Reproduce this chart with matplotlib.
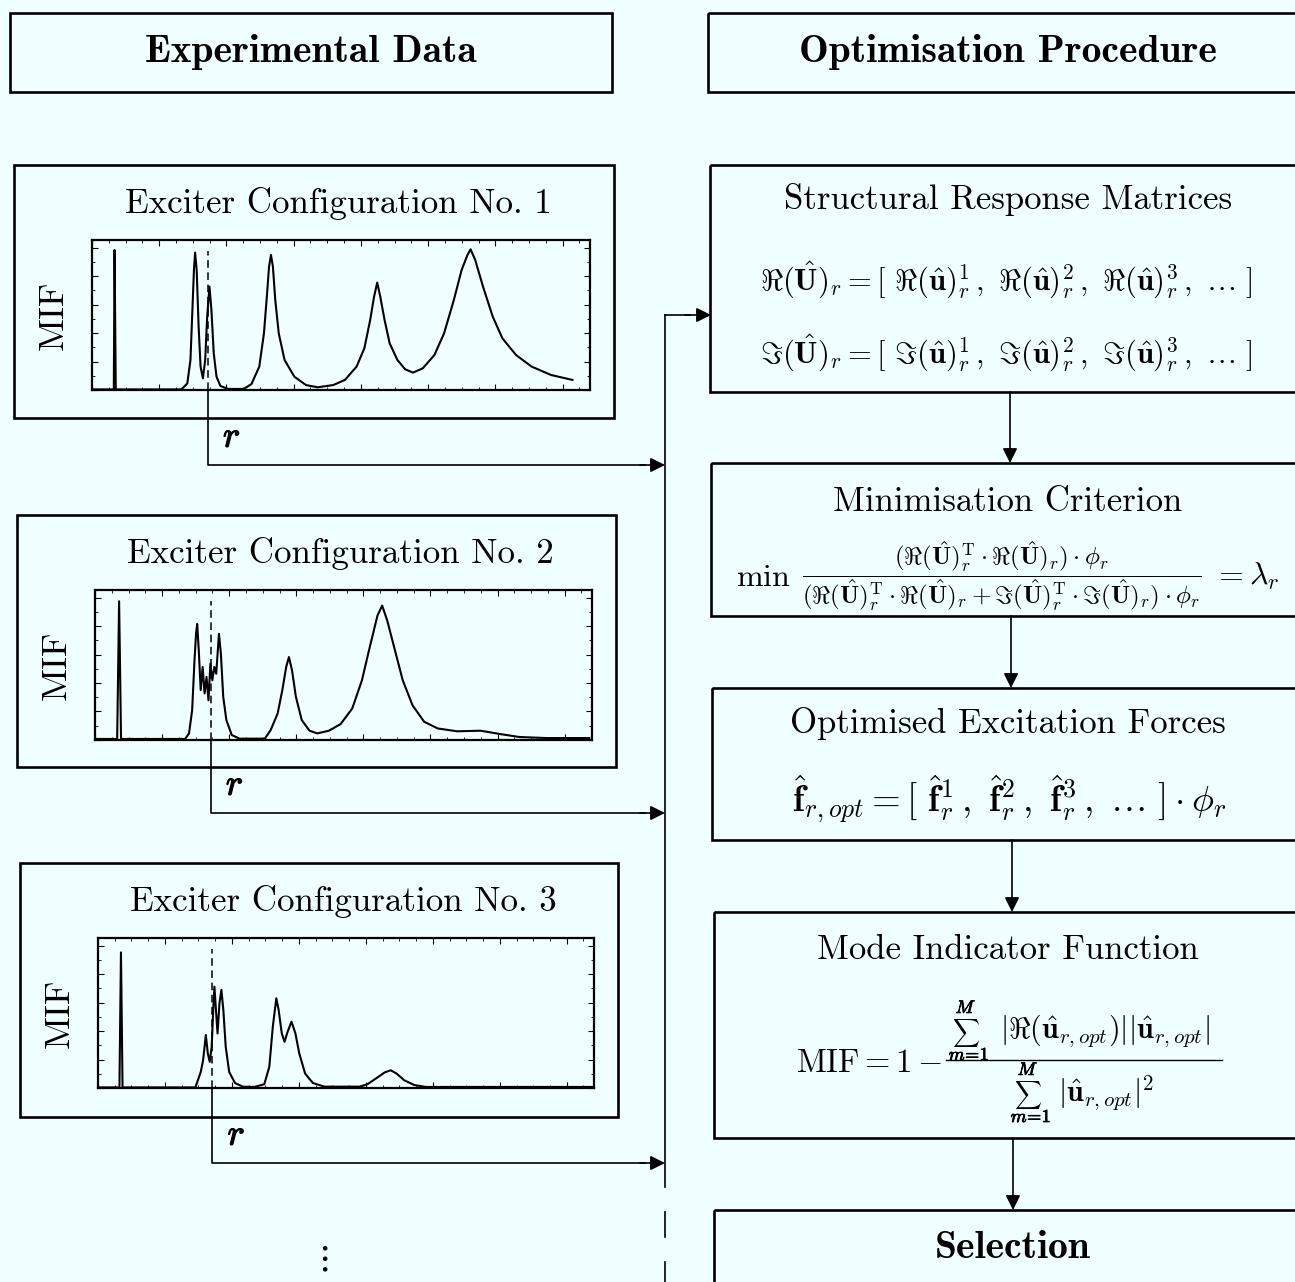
import numpy as np
import matplotlib
matplotlib.use("Agg")
import matplotlib.pyplot as plt
import matplotlib.patheffects as pe
from matplotlib.patches import Rectangle

plt.rcParams['font.family'] = 'serif'
plt.rcParams['font.serif'] = ['cmr10']
plt.rcParams['mathtext.fontset'] = 'cm'
plt.rcParams['axes.formatter.use_mathtext'] = True

BG = '#F0FFFF'
W, H = 1295, 1282

# MIF curves (x: 0..100 of frequency span, y: 0..1 of plot height)
cfg1_x = [0, 4.06, 4.38, 4.53, 4.77, 17.97, 19.14, 19.77, 20.16, 20.47, 20.70, 21.02, 21.41, 21.80, 22.27,
          22.73, 23.13, 23.59, 23.98, 24.45, 25.0, 25.78, 27.34, 30.47, 32.03, 33.59, 34.53, 35.16, 35.55,
          35.94, 36.33, 36.80, 37.5, 38.67, 40.63, 42.97, 45.31, 48.44, 50.78, 53.13, 54.69, 55.86, 56.64,
          57.27, 57.89, 58.75, 59.77, 61.33, 62.89, 64.45, 66.41, 68.75, 70.70, 72.66, 74.22, 75.39, 76.02,
          76.95, 78.52, 80.47, 82.42, 85.16, 88.28, 92.19, 96.48]
cfg1_y = [0.004, 0.004, 0.004, 0.933, 0.004, 0.004, 0.044, 0.2, 0.533, 0.8, 0.916, 0.8, 0.422, 0.156, 0.078,
          0.2, 0.489, 0.689, 0.533, 0.244, 0.089, 0.027, 0.007, 0.007, 0.04, 0.156, 0.378, 0.644, 0.822,
          0.9, 0.822, 0.6, 0.378, 0.2, 0.089, 0.033, 0.018, 0.033, 0.067, 0.156, 0.278, 0.467, 0.622,
          0.716, 0.622, 0.467, 0.311, 0.2, 0.138, 0.116, 0.144, 0.233, 0.378, 0.6, 0.8, 0.9, 0.938,
          0.867, 0.689, 0.489, 0.344, 0.233, 0.156, 0.1, 0.067]

cfg2_x = [0, 4.46, 4.85, 5.24, 18.14, 18.92, 19.55, 20.02, 20.33, 20.56, 20.88, 21.27, 21.66, 22.05, 22.44,
          22.83, 23.22, 23.61, 24.0, 24.39, 24.94, 25.33, 25.80, 26.43, 27.52, 29.09, 34.17, 35.34, 36.75,
          37.69, 38.47, 39.02, 39.64, 40.42, 41.60, 43.16, 44.72, 47.07, 49.41, 51.76, 53.71, 55.28, 56.84,
          57.78, 58.80, 60.36, 61.92, 63.88, 66.22, 68.96, 72.87, 77.56, 81.47, 85.38, 90.85, 99.45]
cfg2_y = [0.007, 0.007, 0.925, 0.007, 0.007, 0.044, 0.2, 0.531, 0.708, 0.774, 0.597, 0.332, 0.487, 0.31, 0.42,
          0.265, 0.509, 0.398, 0.487, 0.442, 0.708, 0.575, 0.288, 0.133, 0.033, 0.009, 0.009, 0.066, 0.177,
          0.332, 0.487, 0.553, 0.465, 0.288, 0.133, 0.062, 0.044, 0.062, 0.106, 0.21, 0.398, 0.619, 0.83,
          0.896, 0.796, 0.597, 0.398, 0.232, 0.122, 0.077, 0.058, 0.062, 0.04, 0.02, 0.013, 0.013]

cfg3_x = [0, 4.32, 4.63, 4.95, 19.62, 20.25, 20.72, 21.19, 21.74, 22.14, 22.53, 22.92, 23.23, 23.47, 23.78,
          24.10, 24.49, 24.88, 25.27, 25.75, 26.45, 27.63, 29.20, 31.55, 33.52, 34.54, 35.24, 35.95, 36.42,
          37.05, 37.60, 38.23, 39.01, 39.80, 40.58, 41.76, 43.33, 45.68, 52.75, 54.32, 56.28, 57.85, 59.03,
          60.20, 61.77, 63.74, 66.09, 99.84]
cfg3_y = [0.004, 0.004, 0.904, 0.004, 0.004, 0.0625, 0.107, 0.185, 0.353, 0.23, 0.174, 0.275, 0.52, 0.676, 0.52,
          0.364, 0.565, 0.654, 0.52, 0.275, 0.107, 0.033, 0.009, 0.007, 0.025, 0.141, 0.408, 0.598, 0.52,
          0.364, 0.308, 0.375, 0.442, 0.364, 0.23, 0.096, 0.033, 0.009, 0.009, 0.025, 0.069, 0.105, 0.118,
          0.096, 0.051, 0.02, 0.007, 0.007]

# selected frequency r (dashed line) in each configuration
r_pos = [23.28, 23.3, 23.08]
curves = [(cfg1_x, cfg1_y), (cfg2_x, cfg2_y), (cfg3_x, cfg3_y)]
titles_left = ["Exciter Configuration No. 1", "Exciter Configuration No. 2", "Exciter Configuration No. 3"]

fig = plt.figure(figsize=(W / 100, H / 100), dpi=100, facecolor=BG)
ax = fig.add_axes([0, 0, 1, 1])
ax.set_xlim(0, W)
ax.set_ylim(H, 0)
ax.axis('off')
ax.set_facecolor(BG)

bold = [pe.withStroke(linewidth=0.9, foreground='black')]
bold_small = [pe.withStroke(linewidth=0.6, foreground='black')]

def box(x0, y0, x1, y1, lw=1.9):
    ax.add_patch(Rectangle((x0, y0), x1 - x0, y1 - y0, fill=False, lw=lw, ec='black', zorder=2))

def arrow(x0, y0, x1, y1):
    ax.annotate('', xy=(x1, y1), xytext=(x0, y0),
                arrowprops=dict(arrowstyle='-|>', color='black', lw=1.2, mutation_scale=22,
                                shrinkA=0, shrinkB=0), zorder=3)

# headers
box(10, 13, 612, 92)
ax.text(311, 52, "Experimental Data", fontfamily='cmb10', fontsize=28.5, ha='center', va='center')
box(708, 13, 1300, 92)
ax.text(1008, 52, "Optimisation Procedure", fontfamily='cmb10', fontsize=28.5, ha='center', va='center')

# left: exciter configurations
left_boxes = [(14, 165, 614, 418), (17, 515, 616, 767), (20, 863, 618, 1117)]
plot_rects = [(92, 240, 590, 390), (95, 590, 592, 740), (98, 938, 594, 1088)]
conn_y = [465, 813, 1163]
mid_x = 665

for i in range(3):
    bx0, by0, bx1, by1 = left_boxes[i]
    box(bx0, by0, bx1, by1)
    ax.text((bx0 + bx1) / 2 + 24, by0 + 38, titles_left[i], fontsize=25.2, ha='center', va='center')
    px0, py0, px1, py1 = plot_rects[i]
    ax.text(bx0 + 40, (py0 + py1) / 2, "MIF", fontsize=26, rotation=90, ha='center', va='center')

    iax = fig.add_axes([px0 / W, 1 - py1 / H, (px1 - px0) / W, (py1 - py0) / H], facecolor=BG)
    cx, cy = curves[i]
    iax.plot(cx, cy, color='black', lw=1.5)
    iax.vlines(r_pos[i], 0, 0.93, colors='black', linestyles=(0, (5, 3)), lw=1.1)
    iax.set_xlim(0, 100)
    iax.set_ylim(0, 1)
    iax.set_xticks(np.arange(0, 101, 13.5))
    iax.set_xticks(np.arange(0, 101, 3.375), minor=True)
    iax.set_yticks(np.arange(0, 1.01, 0.19))
    iax.set_yticks(np.arange(0, 1.01, 0.095), minor=True)
    iax.tick_params(which='both', direction='in', top=True, right=True, labelbottom=False, labelleft=False)
    iax.tick_params(which='major', length=4, width=0.8)
    iax.tick_params(which='minor', length=2, width=0.6)
    for s in iax.spines.values():
        s.set_linewidth(1.6)

    # connector from selected r to the collecting line
    xr = px0 + r_pos[i] / 100 * (px1 - px0)
    ax.plot([xr, xr, mid_x - 20], [py1, conn_y[i], conn_y[i]], color='black', lw=1.2, zorder=2)
    arrow(mid_x - 25, conn_y[i], mid_x, conn_y[i])
    ax.text(xr + 24, conn_y[i] - 27, r'$r$', fontsize=26, ha='center', va='center', path_effects=bold)

# collecting line in the middle
ax.plot([mid_x, mid_x], [315, 1187], color='black', lw=1.2)
ax.plot([mid_x, mid_x], [1212, 1237], color='black', lw=1.2)
ax.plot([mid_x, mid_x], [1262, 1282], color='black', lw=1.2)
ax.plot([mid_x, 690], [315, 315], color='black', lw=1.2)
arrow(685, 315, 711, 315)

ax.text(322, 1260, r'$\vdots$', fontsize=26, ha='center', va='center')

# right: optimisation procedure
right_boxes = [(710, 165, 1300, 392), (711, 463, 1300, 616), (712, 688, 1300, 840),
               (714, 912, 1300, 1138), (714, 1210, 1300, 1300)]
right_titles = ["Structural Response Matrices", "Minimisation Criterion", "Optimised Excitation Forces",
                "Mode Indicator Function"]
title_y = [200, 502, 723, 950]
for b in right_boxes:
    box(*b)
for t, ty in zip(right_titles, title_y):
    ax.text(1008, ty, t, fontsize=25, ha='center', va='center')
ax.text(1013, 1248, "Selection", fontfamily='cmb10', fontsize=28.5, ha='center', va='center')

arrow_x = [1010, 1011, 1012, 1013]
for i in range(4):
    arrow(arrow_x[i], right_boxes[i][3], arrow_x[i], right_boxes[i + 1][1])

U = r'\mathbf{\hat{U}}'
u = r'\mathbf{\hat{u}}'
eq1 = (r'$\Re(' + U + r')_r = [\ \Re(' + u + r')_r^1\,,\ \Re(' + u + r')_r^2\,,\ \Re(' + u
       + r')_r^3\,,\ \ldots\ ]$')
eq2 = (r'$\Im(' + U + r')_r = [\ \Im(' + u + r')_r^1\,,\ \Im(' + u + r')_r^2\,,\ \Im(' + u
       + r')_r^3\,,\ \ldots\ ]$')
ax.text(1006, 280, eq1, fontsize=22, ha='center', va='center')
ax.text(1006, 353, eq2, fontsize=22, ha='center', va='center')

# minimisation criterion: min, fraction and right-hand side as three pieces
frac3 = (r'$\dfrac{(\Re(' + U + r')_r^{\mathrm{T}}\cdot\Re(' + U + r')_r)\cdot\phi_r}{(\Re(' + U
         + r')_r^{\mathrm{T}}\cdot\Re(' + U + r')_r+\Im(' + U + r')_r^{\mathrm{T}}\cdot\Im(' + U
         + r')_r)\cdot\phi_r}$')
ax.text(763, 578, r'$\min$', fontsize=23, ha='center', va='center')
ax.text(1002, 576, frac3, fontsize=18, ha='center', va='center')
ax.text(1246, 576, r'$= \lambda_r$', fontsize=23, ha='center', va='center')

f = r'\mathbf{\hat{f}}'
eq4 = (r'$' + f + r'_{r,opt} = [\ ' + f + r'_r^1\,,\ ' + f + r'_r^2\,,\ ' + f
       + r'_r^3\,,\ \ldots\ ]\cdot\phi_r$')
ax.text(1009, 800, eq4, fontsize=26.5, ha='center', va='center')

# mode indicator function, fraction assembled from its pieces
ax.text(869, 1063, r'$\mathrm{MIF} = 1 -$', fontsize=23.5, ha='center', va='center')
ax.plot([946, 1222], [1060, 1060], color='black', lw=1.0)
for sx, sy in [(966, 1033), (1028, 1095)]:
    ax.text(sx, sy, r'$\sum$', fontsize=13.5, ha='center', va='center')
    ax.text(sx, sy - 25, r'$M$', fontsize=13, ha='center', va='center', path_effects=bold_small)
    ax.text(sx + 3, sy + 22, r'$m\!=\!1$', fontsize=13, ha='center', va='center', path_effects=bold_small)
ax.text(1000, 1031, r'$|\Re(' + u + r'_{r,opt})||' + u + r'_{r,opt}|$', fontsize=21.5,
        ha='left', va='center')
ax.text(1058, 1093, r'$|' + u + r'_{r,opt}|^2$', fontsize=21.5, ha='left', va='center')

fig.savefig("out.png", dpi=100, facecolor=BG)
